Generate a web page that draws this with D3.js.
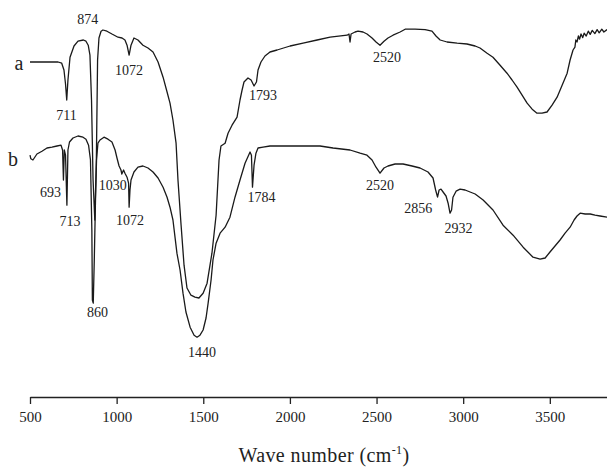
<!DOCTYPE html>
<html>
<head>
  <meta charset="utf-8">
  <script src="https://d3js.org/d3.v7.min.js"></script>
  <style>
    body { margin: 0; background: #fff; }
    svg { display: block; }
    svg text { font-family: 'Liberation Serif', 'Times New Roman', serif; fill: #222; }
    .spec { fill: none; stroke: #1a1a1a; stroke-width: 1.3px; stroke-linejoin: round; }
    .peak { font-size: 14px; }
    .axis text { font-size: 15px; font-family: 'Liberation Serif', 'Times New Roman', serif; }
    .axis path, .axis line { stroke: #222; stroke-width: 1.3px; }
  </style>
</head>
<body>
<script>
  // spectrum a : [wave number, transmittance %]
  var specA = [
    [500,84.5],[587,84.5],[662,84.5],[683,84.2],[696,82.5],[705,79],[712,75],[719,80],[731,85.7],
    [754,88.5],[777,89.7],[808,90],[823,89.7],[836,88.7],[846,86.2],[855,75],[864,55],[874,45],
    [883,60],[890,85],[898,90.5],[910,92.2],[921,92.5],[944,92.2],[973,91.5],[1008,90.7],
    [1031,90.5],[1048,90],[1060,88.7],[1072,86.2],[1083,88.7],[1100,90.5],[1123,90],[1152,88.7],
    [1181,88],[1210,87],[1239,84.5],[1268,80.7],[1291,77],[1308,74.2],[1325,70],[1343,64.2],
    [1354,55],[1372,43.7],[1389,33.7],[1406,28],[1429,26.2],[1452,25.7],[1475,25.5],[1499,26.7],
    [1522,29.2],[1550,36.7],[1574,46.2],[1591,60],[1602,63.5],[1626,64.2],[1643,66.7],[1666,68.7],
    [1695,70.7],[1712,75],[1724,77.5],[1735,79.5],[1758,80.5],[1776,80],[1793,78.5],[1807,79.5],
    [1816,82.5],[1833,84.5],[1856,86],[1885,87],[1926,87.5],[2001,88.5],[2076,89.2],[2157,90],
    [2232,90.7],[2330,91.2],[2341,91.5],[2347,89.5],[2353,91.5],[2376,92],[2393,92.2],[2422,92],
    [2445,91.5],[2474,90.5],[2497,89.5],[2520,88.7],[2543,89.7],[2566,90.5],[2595,91.2],[2636,92],
    [2665,92.7],[2722,92.7],[2780,92.6],[2820,92.2],[2843,91],[2867,90],[2907,89.5],[2965,89.2],
    [3022,89],[3069,88.5],[3097,88],[3138,86.7],[3172,85.7],[3213,83.7],[3253,81.7],[3282,80],
    [3311,78.2],[3340,76.2],[3369,74.2],[3398,72.7],[3426,71.7],[3455,71.7],[3484,72],[3513,73.7],
    [3542,75.7],[3571,78.7],[3600,81.7],[3617,85],[3634,87.5],[3645,88.2],[3650,90],[3657,89.5],
    [3665,91],[3672,90.2],[3680,91.5],[3690,90.6],[3698,91.7],[3710,91],[3722,92.2],[3733,91.4],
    [3745,92.4],[3760,91.6],[3773,92.6],[3785,91.8],[3800,92.7],[3812,92],[3830,92.6]
  ];

  // spectrum b : [wave number, transmittance %]
  var specB = [
    [500,61.2],[505,60.3],[517,60],[540,61.5],[569,62.2],[598,63],[627,63.2],[656,63.5],[679,63.7],
    [688,62.5],[693,55],[698,62.5],[705,61.2],[713,48.7],[719,62.5],[728,64.5],[748,65.5],
    [777,66],[806,65.7],[823,65.2],[838,63.7],[849,60],[857,42.5],[860,25],[865,24.2],[871,35],
    [878,50],[884,60],[892,64.2],[904,65],[927,65.7],[950,65.2],[973,64.5],[991,62.5],[1002,60.5],
    [1014,58.5],[1025,57.5],[1030,56.5],[1040,57.5],[1048,56.7],[1060,55.7],[1069,54.2],[1072,48.2],
    [1077,52.5],[1083,55],[1100,57],[1123,58.2],[1152,58.5],[1181,58],[1210,57],[1239,55.5],
    [1268,53.2],[1291,50.7],[1308,48.2],[1325,45],[1348,36.7],[1366,32.5],[1383,26.7],[1400,22],
    [1424,18.2],[1447,16.2],[1464,15.7],[1481,16.2],[1499,17.5],[1516,20.5],[1528,24.2],[1545,30],
    [1556,35],[1574,39.2],[1597,41.7],[1626,43.2],[1654,45.7],[1683,50.7],[1712,55],[1741,59.2],
    [1770,62],[1778,61.2],[1784,53.2],[1793,58.7],[1804,61.7],[1816,63],[1845,63.2],[1885,63.5],
    [1972,63.5],[2076,63.5],[2174,63.5],[2249,63],[2347,62.5],[2405,61.7],[2445,61.2],[2474,60],
    [2497,58.2],[2520,56.7],[2543,58],[2566,58.5],[2607,59],[2653,59],[2705,58.5],[2751,58],
    [2797,57],[2826,55.5],[2841,52.5],[2852,50.7],[2861,52.5],[2872,52.7],[2884,52],[2901,51],
    [2913,49.2],[2924,46.7],[2933,47.5],[2941,50.7],[2959,52.2],[2982,52.7],[3011,52.5],[3040,52],
    [3069,51.5],[3115,50],[3172,47.5],[3230,43.7],[3288,41.2],[3346,38.2],[3403,35.7],[3444,35.2],
    [3473,35.5],[3501,37],[3530,38.5],[3559,40],[3588,41.7],[3617,43.2],[3640,45],[3657,46],
    [3675,46.7],[3704,46.5],[3733,46.5],[3761,46.2],[3790,46],[3830,45.7]
  ];

  var peaksA = [711, 874, 1072, 1793, 2520];
  var peaksB = [693, 713, 860, 1030, 1072, 1440, 1784, 2520, 2856, 2932];
  var xTicks = [500, 1000, 1500, 2000, 2500, 3000, 3500];

  // label placement: [dx from peak, y in px]
  var posA = [[0,115],[-7,19],[0,70],[9,95],[7,57]];
  var posB = [[-13,192],[3,221],[5,312],[-9,185],[1,220],[9,352],[9,197],[0,185],[-20,208],[7,228]];

  var width = 607, height = 467;

  var svg = d3.select("body").append("svg")
      .attr("width", width)
      .attr("height", height);

  var x = d3.scaleLinear().domain([500, 3830]).range([30, 607]);
  var y = d3.scaleLinear().domain([0, 100]).range([400, 0]);

  var line = d3.line()
      .x(function(d) { return x(d[0]); })
      .y(function(d) { return y(d[1]); });

  svg.append("path").datum(specA).attr("class", "spec").attr("d", line);
  svg.append("path").datum(specB).attr("class", "spec").attr("d", line);

  // a / b curve names
  svg.append("text").attr("x", 19).attr("y", 70)
      .attr("text-anchor", "middle").style("font-size", "20px").text("a");
  svg.append("text").attr("x", 13).attr("y", 166)
      .attr("text-anchor", "middle").style("font-size", "20px").text("b");

  function peakLabels(peaks, pos) {
    svg.selectAll(null)
      .data(peaks)
      .enter().append("text")
        .attr("class", "peak")
        .attr("x", function(d, i) { return x(d) + pos[i][0]; })
        .attr("y", function(d, i) { return pos[i][1]; })
        .attr("dy", "0.35em")
        .attr("text-anchor", "middle")
        .text(function(d) { return d; });
  }
  peakLabels(peaksA, posA);
  peakLabels(peaksB, posB);

  // x axis
  svg.append("g")
      .attr("class", "axis")
      .attr("transform", "translate(0,397)")
      .call(d3.axisBottom(x).tickValues(xTicks).tickSize(7).tickSizeOuter(0).tickPadding(7).tickFormat(d3.format("d")));

  // axis title
  var title = svg.append("text")
      .attr("x", 324)
      .attr("y", 462)
      .attr("text-anchor", "middle")
      .style("font-size", "20px")
      .style("letter-spacing", "0.4px");
  title.append("tspan").text("Wave number (cm");
  title.append("tspan").attr("dy", -8).style("font-size", "12px").text("-1");
  title.append("tspan").attr("dy", 8).text(")");
</script>
</body>
</html>
